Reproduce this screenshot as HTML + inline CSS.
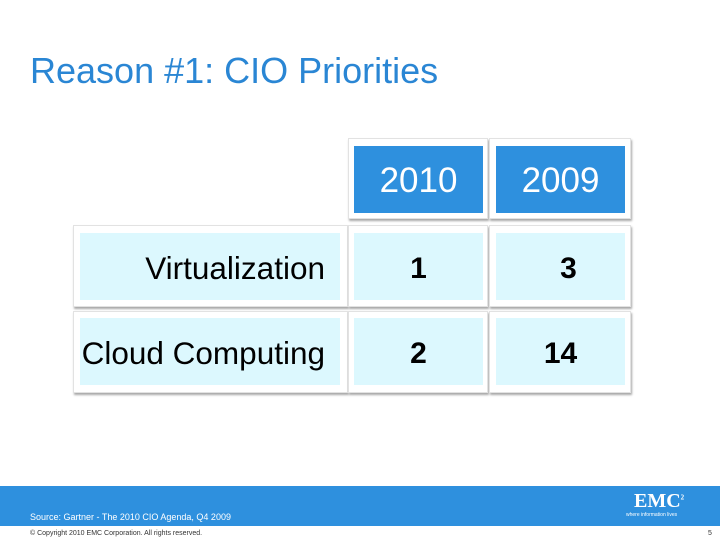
<!DOCTYPE html>
<html><head><meta charset="utf-8"><style>
body{margin:0;width:720px;height:540px;position:relative;background:#fff;font-family:"Liberation Sans",Arial,sans-serif;overflow:hidden}
.a{position:absolute}
.out{position:absolute;background:#fff;border:1px solid #e2e2e2;box-shadow:1px 2px 2px #a8a8a8;box-sizing:border-box}
.hd{position:absolute;background:#2e90de;color:#fff;font-size:35px;display:flex;align-items:center;justify-content:center;padding-top:2px;box-sizing:border-box}
.bd{position:absolute;background:#dcf8fe;color:#000;font-size:31.5px;display:flex;align-items:center;padding-top:4px;box-sizing:border-box}
.num{justify-content:center;font-weight:bold;font-size:30px}
</style></head><body>
<div class="a" style="left:30px;top:50px;font-size:36px;color:#2a86d4">Reason #1: CIO Priorities</div>

<div class="out" style="left:348px;top:138px;width:140px;height:81px"></div>
<div class="hd" style="left:354px;top:146px;width:129px;height:67px">2010</div>
<div class="out" style="left:489px;top:138px;width:142px;height:81px"></div>
<div class="hd" style="left:496px;top:146px;width:129px;height:67px">2009</div>

<div class="out" style="left:73px;top:225px;width:275px;height:82px"></div>
<div class="bd" style="left:80px;top:233px;width:260px;height:67px;justify-content:flex-end;padding-right:15px">Virtualization</div>
<div class="out" style="left:348px;top:225px;width:140px;height:82px"></div>
<div class="bd num" style="left:354px;top:233px;width:129px;height:67px">1</div>
<div class="out" style="left:489px;top:225px;width:142px;height:82px"></div>
<div class="bd num" style="left:496px;top:233px;width:129px;height:67px;padding-left:16px">3</div>

<div class="out" style="left:73px;top:311px;width:275px;height:82px"></div>
<div class="bd" style="left:80px;top:318px;width:260px;height:67px;justify-content:flex-end;padding-right:15px">Cloud Computing</div>
<div class="out" style="left:348px;top:311px;width:140px;height:82px"></div>
<div class="bd num" style="left:354px;top:318px;width:129px;height:67px">2</div>
<div class="out" style="left:489px;top:311px;width:142px;height:82px"></div>
<div class="bd num" style="left:496px;top:318px;width:129px;height:67px">14</div>

<div class="a" style="left:0;top:486px;width:720px;height:40px;background:#2e90de"></div>
<div class="a" style="left:30px;top:512px;font-size:9px;color:#fff">Source: Gartner - The 2010 CIO Agenda, Q4 2009</div>
<div class="a" style="left:634px;top:490px;font-family:'Liberation Serif',serif;font-weight:bold;font-size:20px;color:#fff">EMC<sup style="font-size:7px">2</sup></div>
<div class="a" style="left:626px;top:512px;font-size:5px;color:#fff">where information lives</div>
<div class="a" style="left:30px;top:530px;font-size:7px;color:#333">© Copyright 2010 EMC Corporation. All rights reserved.</div>
<div class="a" style="left:708px;top:530px;font-size:7px;color:#333">5</div>
</body></html>
